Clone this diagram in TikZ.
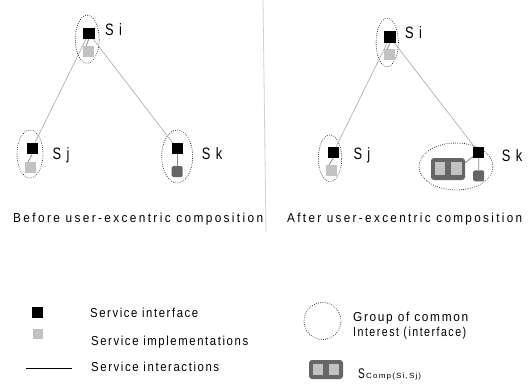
\documentclass[tikz,border=0pt]{standalone}
\usepackage{fontspec}
\setmainfont{Liberation Sans}
\newfontfamily\spacedA[LetterSpace=20]{Liberation Sans}
\newfontfamily\spacedB[LetterSpace=14]{Liberation Sans}
\usetikzlibrary{shapes.geometric}
\definecolor{impl}{HTML}{C2C2C2}
\definecolor{dimpl}{HTML}{666666}
\definecolor{linkc}{HTML}{A8A8A8}
\definecolor{stubc}{HTML}{8A8A8A}
\definecolor{divc}{HTML}{D0D0D0}
\newcommand{\fitw}[3]{\resizebox{#1}{\height}{\fontsize{#2}{#2}\selectfont #3}}
\newcommand{\slbl}[1]{\scalebox{0.78}[1]{\fontsize{16.5}{17}\selectfont\spacedB #1}}
\begin{document}
\begin{tikzpicture}[x=1pt,y=-1pt,
 iface/.style={rectangle, fill=black, minimum size=11.5pt, inner sep=0},
 implsq/.style={rectangle, fill=impl, minimum size=11pt, inner sep=0},
 darksq/.style={rectangle, fill=dimpl, rounded corners=1.5pt, minimum size=11pt, inner sep=0},
 grp/.style={ellipse, draw, line width=0.9pt, dash pattern=on 0pt off 2.2pt, line cap=round, inner sep=0},
 link/.style={draw=linkc, line width=0.6pt},
 stub/.style={draw=stubc, line width=0.8pt},
 lbl/.style={anchor=base west, inner sep=0},
 comp/.style={rectangle, fill=dimpl, rounded corners=3pt, minimum width=34pt, minimum height=22pt, inner sep=0},
 compin/.style={rectangle, fill=impl, minimum width=10.5pt, minimum height=12.5pt, inner sep=0}]
\useasboundingbox (0,0) rectangle (530,385);
\fill[white] (0,0) rectangle (530,385);

% divider
\coordinate (d1) at (263,0);
\coordinate (d2) at (266,232);
\draw[divc, line width=0.8pt] (d1) -- (d2);

% ---------- Left panel ----------
\node[grp, minimum width=24pt, minimum height=48pt] (Lgi) at (87.2,39.2) {};
\node[iface] (Lsi) at (88.8,33.3) {};
\node[implsq] (Lsiimp) at (88.8,51.3) {};
\draw[stub] (Lsi.south) -- ([xshift=3pt]Lsiimp.north west);
\node[lbl] (Lsil) at (105,35.5) {\slbl{S i}};

\node[grp, minimum width=26pt, minimum height=48pt] (Lgj) at (30,154) {};
\node[iface, minimum size=11pt] (Lsj) at (32,148.8) {};
\node[implsq] (Lsjimp) at (30.8,167.5) {};
\draw[stub] (Lsj.south) -- ([xshift=3pt]Lsjimp.north west);
\node[lbl] (Lsjl) at (52.5,159) {\slbl{S j}};

\node[grp, minimum width=31pt, minimum height=53pt] (Lgk) at (177.2,156.5) {};
\node[iface, minimum size=11pt] (Lsk) at (177.2,148.8) {};
\node[darksq] (Lskimp) at (177.2,171.7) {};
\draw[stub] (Lsk) -- (Lskimp);
\node[lbl] (Lskl) at (201.7,160) {\slbl{S k}};

\draw[link] (Lsi) -- (Lsj);
\draw[link] (Lsi) -- (Lsk);

\node[lbl] (Lcap) at (13,222.7) {\fitw{250pt}{13}{\spacedA Before user-excentric composition}};

% ---------- Right panel ----------
\node[grp, minimum width=22.3pt, minimum height=48.4pt] (Rgi) at (387.2,42.5) {};
\node[iface] (Rsi) at (390,37.2) {};
\node[implsq] (Rsiimp) at (389.7,55) {};
\draw[stub] (Rsi.south) -- ([xshift=3pt]Rsiimp.north west);
\node[lbl] (Rsil) at (405,38.3) {\slbl{S i}};

\node[grp, minimum width=23.4pt, minimum height=46.7pt] (Rgj) at (330,158.3) {};
\node[iface, minimum size=11pt] (Rsj) at (333.3,152.5) {};
\node[implsq] (Rsjimp) at (331.7,170.5) {};
\draw[stub] (Rsj.south) -- ([xshift=3pt]Rsjimp.north west);
\node[lbl] (Rsjl) at (353.3,160) {\slbl{S j}};

\node[grp, minimum width=74pt, minimum height=47pt] (Rgk) at (456,166.5) {};
\node[iface, minimum size=11pt] (Rsk) at (478.8,152.5) {};
\node[darksq] (Rskimp) at (478.7,175.8) {};
\draw[stub] (Rsk) -- (Rskimp);
\node[comp] (Rcomp) at (448,169) {};
\node[compin] (Rcompa) at (440.2,168.3) {};
\node[compin] (Rcompb) at (456.6,168.3) {};
\draw[stub] (Rcomp.20) -- (Rsk.215);
\node[lbl] (Rskl) at (501.7,161) {\slbl{S k}};

\draw[link] (Rsi) -- (Rsj);
\draw[link] (Rsi) -- (Rsk);

\node[lbl] (Rcap) at (287,222.7) {\fitw{235pt}{13}{\spacedA After user-excentric composition}};

% ---------- Legend ----------
\node[iface, minimum size=10.5pt] (legi) at (37.5,312.5) {};
\node[lbl] (legit) at (90,317.7) {\fitw{108pt}{13}{\spacedB Service interface}};

\node[implsq, minimum size=10pt] (legm) at (37.5,334) {};
\node[lbl] (legmt) at (91,345) {\fitw{157pt}{13}{\spacedB Service implementations}};

\coordinate (ll1) at (26,368);
\coordinate (ll2) at (72,368);
\draw[black, line width=0.8pt] (ll1) -- (ll2);
\node[lbl] (leglt) at (91,371.7) {\fitw{128pt}{13}{\spacedB Service interactions}};

\node[grp, circle, minimum size=37pt] (legg) at (322.5,321) {};
\node[lbl] (leggt1) at (353,321) {\fitw{115pt}{13}{\spacedB Group of common}};
\node[lbl] (leggt2) at (353,336.7) {\fitw{113pt}{13}{\spacedB Interest (interface)}};

\node[comp, minimum width=34pt, minimum height=19pt] (legc) at (326,369.5) {};
\node[compin, minimum width=10.5pt, minimum height=11pt] (legca) at (318.2,369.5) {};
\node[compin, minimum width=10.5pt, minimum height=11pt] (legcb) at (334.2,369.5) {};
\node[lbl] (legct) at (358,378.5) {\scalebox{0.72}[1]{\fontsize{14}{15}\selectfont S}};
\node[lbl] (legcs) at (366,378) {\fitw{55pt}{7.5}{\spacedB Comp(Si,Sj)}};
\end{tikzpicture}
\end{document}
